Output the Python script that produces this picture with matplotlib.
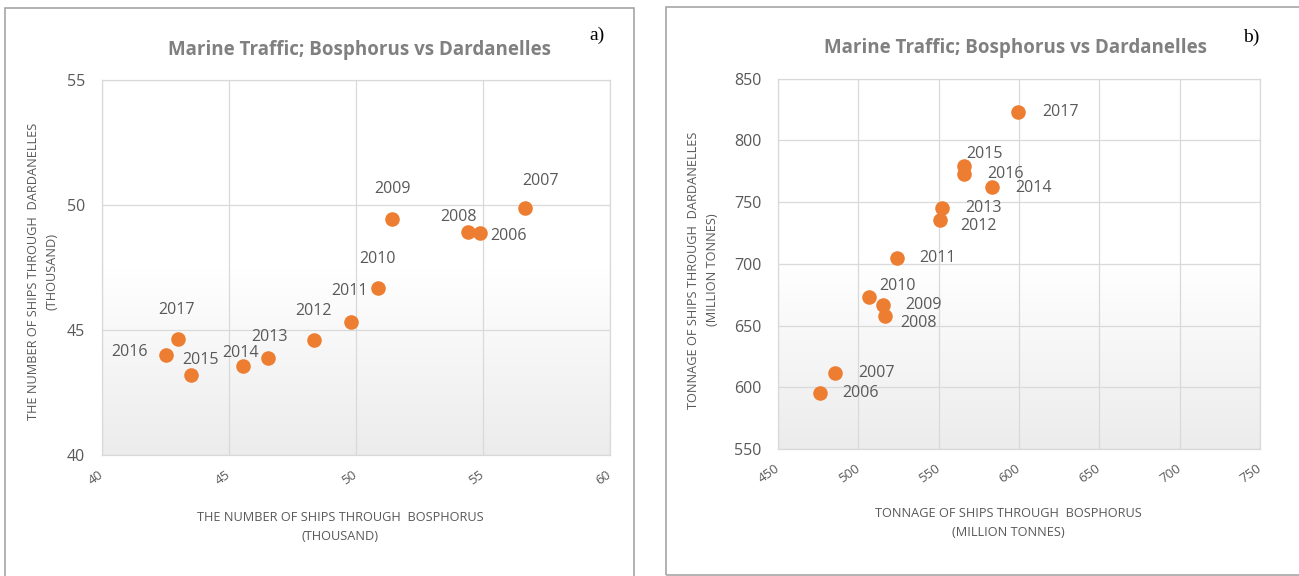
import matplotlib.pyplot as plt
import numpy as np
from matplotlib.patches import Rectangle
from matplotlib.colors import LinearSegmentedColormap

# data (2006-2017)
years = ['2006', '2007', '2008', '2009', '2010', '2011',
         '2012', '2013', '2014', '2015', '2016', '2017']
ships_bosphorus = [54.90, 56.67, 54.43, 51.45, 50.90, 49.82,
                   48.38, 46.55, 45.57, 43.53, 42.55, 42.99]
ships_dardanelles = [48.89, 49.89, 48.93, 49.44, 46.69, 45.32,
                     44.60, 43.88, 43.56, 43.21, 43.99, 44.63]
tonnage_bosphorus = [476.0, 485.5, 516.4, 515.1, 506.7, 523.9,
                     550.9, 552.2, 583.2, 565.6, 565.6, 599.4]
tonnage_dardanelles = [595.3, 611.3, 657.7, 666.6, 673.3, 705.0,
                       735.5, 745.0, 762.0, 779.5, 772.8, 822.8]

W, H = 1299, 576
ORANGE = '#ED7D31'
TXT = '#595959'
plt.rcParams['font.family'] = ['Open Sans', 'DejaVu Sans']

fig = plt.figure(figsize=(W / 100, H / 100), dpi=100)


def fx(x):
    return x / W


def fy(y):
    return 1 - y / H


def axes_px(x0, x1, y0, y1):
    return fig.add_axes([fx(x0), fy(y1), fx(x1) - fx(x0), (y1 - y0) / H])


grad_cmap = LinearSegmentedColormap.from_list('pl', ['#ffffff', '#ffffff', '#ececec'])


def panel(ax, xs, ys, xlim, ylim, xstep, ystep, offsets):
    ax.imshow(np.linspace(0, 1, 200).reshape(-1, 1), extent=[*xlim, *ylim],
              aspect='auto', cmap=grad_cmap, origin='upper', zorder=0)
    ax.set_xlim(xlim)
    ax.set_ylim(ylim)
    ax.set_xticks(np.arange(xlim[0], xlim[1] + 1, xstep))
    ax.set_yticks(np.arange(ylim[0], ylim[1] + 1, ystep))
    ax.set_axisbelow(True)
    ax.grid(True, color='#d9d9d9', lw=0.9)
    for s in ax.spines.values():
        s.set_color('#d9d9d9')
        s.set_linewidth(0.9)
    ax.tick_params(length=0)
    ax.tick_params(axis='y', labelsize=11.5, labelcolor=TXT, pad=12)
    ax.tick_params(axis='x', labelsize=9.5, labelcolor=TXT, pad=13)
    for lab in ax.get_xticklabels():
        lab.set_rotation(35)
        lab.set_ha('right')
        lab.set_va('center')
        lab.set_rotation_mode('anchor')
    ax.scatter(xs, ys, s=110, color=ORANGE, zorder=3, linewidths=0)
    for x, y, yr, (dx, dy) in zip(xs, ys, years, offsets):
        ax.annotate(yr, (x, y), xytext=(dx, dy), textcoords='offset pixels',
                    ha='center', va='center', fontsize=11.5, color=TXT, zorder=4)


# panel a)
ax1 = axes_px(101.6, 609.5, 80, 455)
off_a = [(29, -3), (16, 27), (-10, 15), (0, 30), (-1, 29), (-1, 31),
         (-1, 29), (2, 21), (-3, 13), (9, 15), (-37, 3), (-1, 29)]
panel(ax1, ships_bosphorus, ships_dardanelles, (40, 60), (40, 55), 5, 5, off_a)

# panel b)
ax2 = axes_px(778, 1260, 78.7, 449)
off_b = [(41, 0), (41, 0), (34, -7), (41, 0), (28, 11), (41, 0),
         (38, -6), (41, 0), (41, -1), (21, 12), (42, 0), (42, 0)]
panel(ax2, tonnage_bosphorus, tonnage_dardanelles, (450, 750), (550, 850), 50, 50, off_b)

# titles, axis titles, panel letters
title = 'Marine Traffic; Bosphorus vs Dardanelles'
fig.text(fx(360), fy(50), title, ha='center', va='center', fontsize=13.5,
         fontweight='bold', color='#808080')
fig.text(fx(1016), fy(48), title, ha='center', va='center', fontsize=13.5,
         fontweight='bold', color='#808080')
fig.text(fx(597), fy(35), 'a)', ha='center', va='center', fontsize=14,
         family='Liberation Serif', color='black')
fig.text(fx(1251), fy(37), 'b)', ha='center', va='center', fontsize=14,
         family='Liberation Serif', color='black')

fig.text(fx(43), fy(271), 'THE NUMBER OF SHIPS THROUGH  DARDANELLES\n(THOUSAND)',
         rotation=90, ha='center', va='center', multialignment='center',
         fontsize=9.2, color=TXT, linespacing=1.6)
fig.text(fx(340), fy(527), 'THE NUMBER OF SHIPS THROUGH  BOSPHORUS\n(THOUSAND)',
         ha='center', va='center', multialignment='center',
         fontsize=9.2, color=TXT, linespacing=1.6)
fig.text(fx(703), fy(270), 'TONNAGE OF SHIPS THROUGH  DARDANELLES\n(MILLION TONNES)',
         rotation=90, ha='center', va='center', multialignment='center',
         fontsize=9.2, color=TXT, linespacing=1.6)
fig.text(fx(1008), fy(523), 'TONNAGE OF SHIPS THROUGH  BOSPHORUS\n(MILLION TONNES)',
         ha='center', va='center', multialignment='center',
         fontsize=9.2, color=TXT, linespacing=1.6)

# panel frames
fig.add_artist(Rectangle((fx(5), fy(590)), fx(634) - fx(5), (590 - 8) / H,
                         transform=fig.transFigure, fill=False, ec='#a6a6a6', lw=1.2))
fig.add_artist(Rectangle((fx(666), fy(575)), fx(1320) - fx(666), (575 - 7) / H,
                         transform=fig.transFigure, fill=False, ec='#a6a6a6', lw=1.2))

fig.savefig('out.png', dpi=100)
